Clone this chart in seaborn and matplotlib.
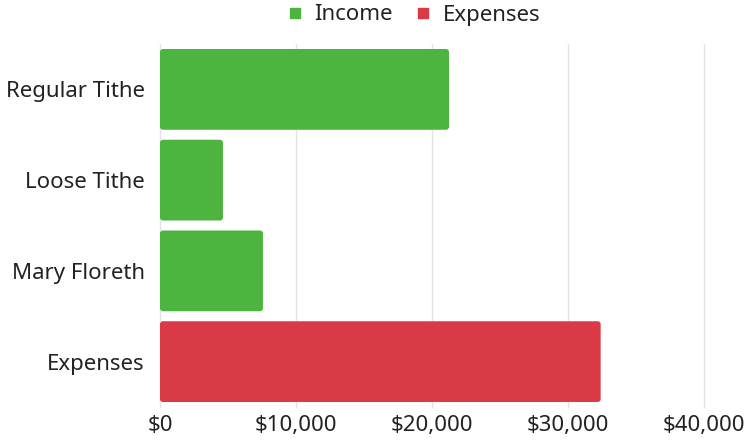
import matplotlib
matplotlib.use("Agg")
import matplotlib.pyplot as plt
import seaborn as sns
import pandas as pd
from matplotlib.patches import FancyBboxPatch
from matplotlib.ticker import FuncFormatter
from matplotlib.lines import Line2D

categories = ["Regular Tithe", "Loose Tithe", "Mary Floreth", "Expenses"]
values = [21250, 4630, 7570, 32400]
groups = ["Income", "Income", "Income", "Expenses"]
colors = {"Income": "#4DB53F", "Expenses": "#DA3946"}
xticks = [0, 10000, 20000, 30000, 40000]

df = pd.DataFrame({"category": categories, "value": values, "group": groups})

sns.set_theme(style="white")
plt.rcParams["font.family"] = ["Noto Sans", "DejaVu Sans"]

fig = plt.figure(figsize=(7.51, 4.43), dpi=100)
ax = fig.add_axes([160/751, 1 - 407/443, (704-160)/751, (407-44)/443])

sns.barplot(data=df, x="value", y="category", hue="group", palette=colors,
            dodge=False, width=0.89, ax=ax, legend=False, saturation=1)

# replace bars with slightly rounded ones
xpp = 40000 / 544
ypp = 4 / 363
for p in list(ax.patches):
    x, y = p.get_x(), p.get_y()
    w, h = p.get_width(), p.get_height()
    fc = p.get_facecolor()
    p.remove()
    r = 3 * xpp
    fb = FancyBboxPatch((x, y), w, h, boxstyle=f"round,pad=0,rounding_size={r}",
                        mutation_aspect=ypp / xpp, facecolor=fc, edgecolor="none", zorder=2)
    ax.add_patch(fb)

ax.set_xlim(0, 40000)
ax.set_ylim(3.5, -0.5)
ax.set_xticks(xticks)
ax.xaxis.set_major_formatter(FuncFormatter(lambda v, _: f"${v:,.0f}"))
ax.grid(axis="x", color="#e3e3e3", linewidth=1, zorder=0)
for gl in ax.get_xgridlines():
    gl.set_clip_on(False)
ax.set_axisbelow(True)
for s in ax.spines.values():
    s.set_visible(False)
ax.set_xlabel("")
ax.set_ylabel("")
ax.tick_params(axis="both", length=0, labelsize=16, colors="#222222")
ax.tick_params(axis="x", pad=6)
ax.tick_params(axis="y", pad=11)

handles = [Line2D([], [], marker="s", linestyle="none", markersize=7, color=colors["Income"]),
           Line2D([], [], marker="s", linestyle="none", markersize=7, color=colors["Expenses"])]
fig.legend(handles, ["Income", "Expenses"], loc="center", bbox_to_anchor=(411/751, 1 - 15/443),
           ncol=2, frameon=False, fontsize=16, handletextpad=0.3, columnspacing=0.75,
           handlelength=1.2, labelcolor="#222222")

fig.savefig("out.png", dpi=100)
